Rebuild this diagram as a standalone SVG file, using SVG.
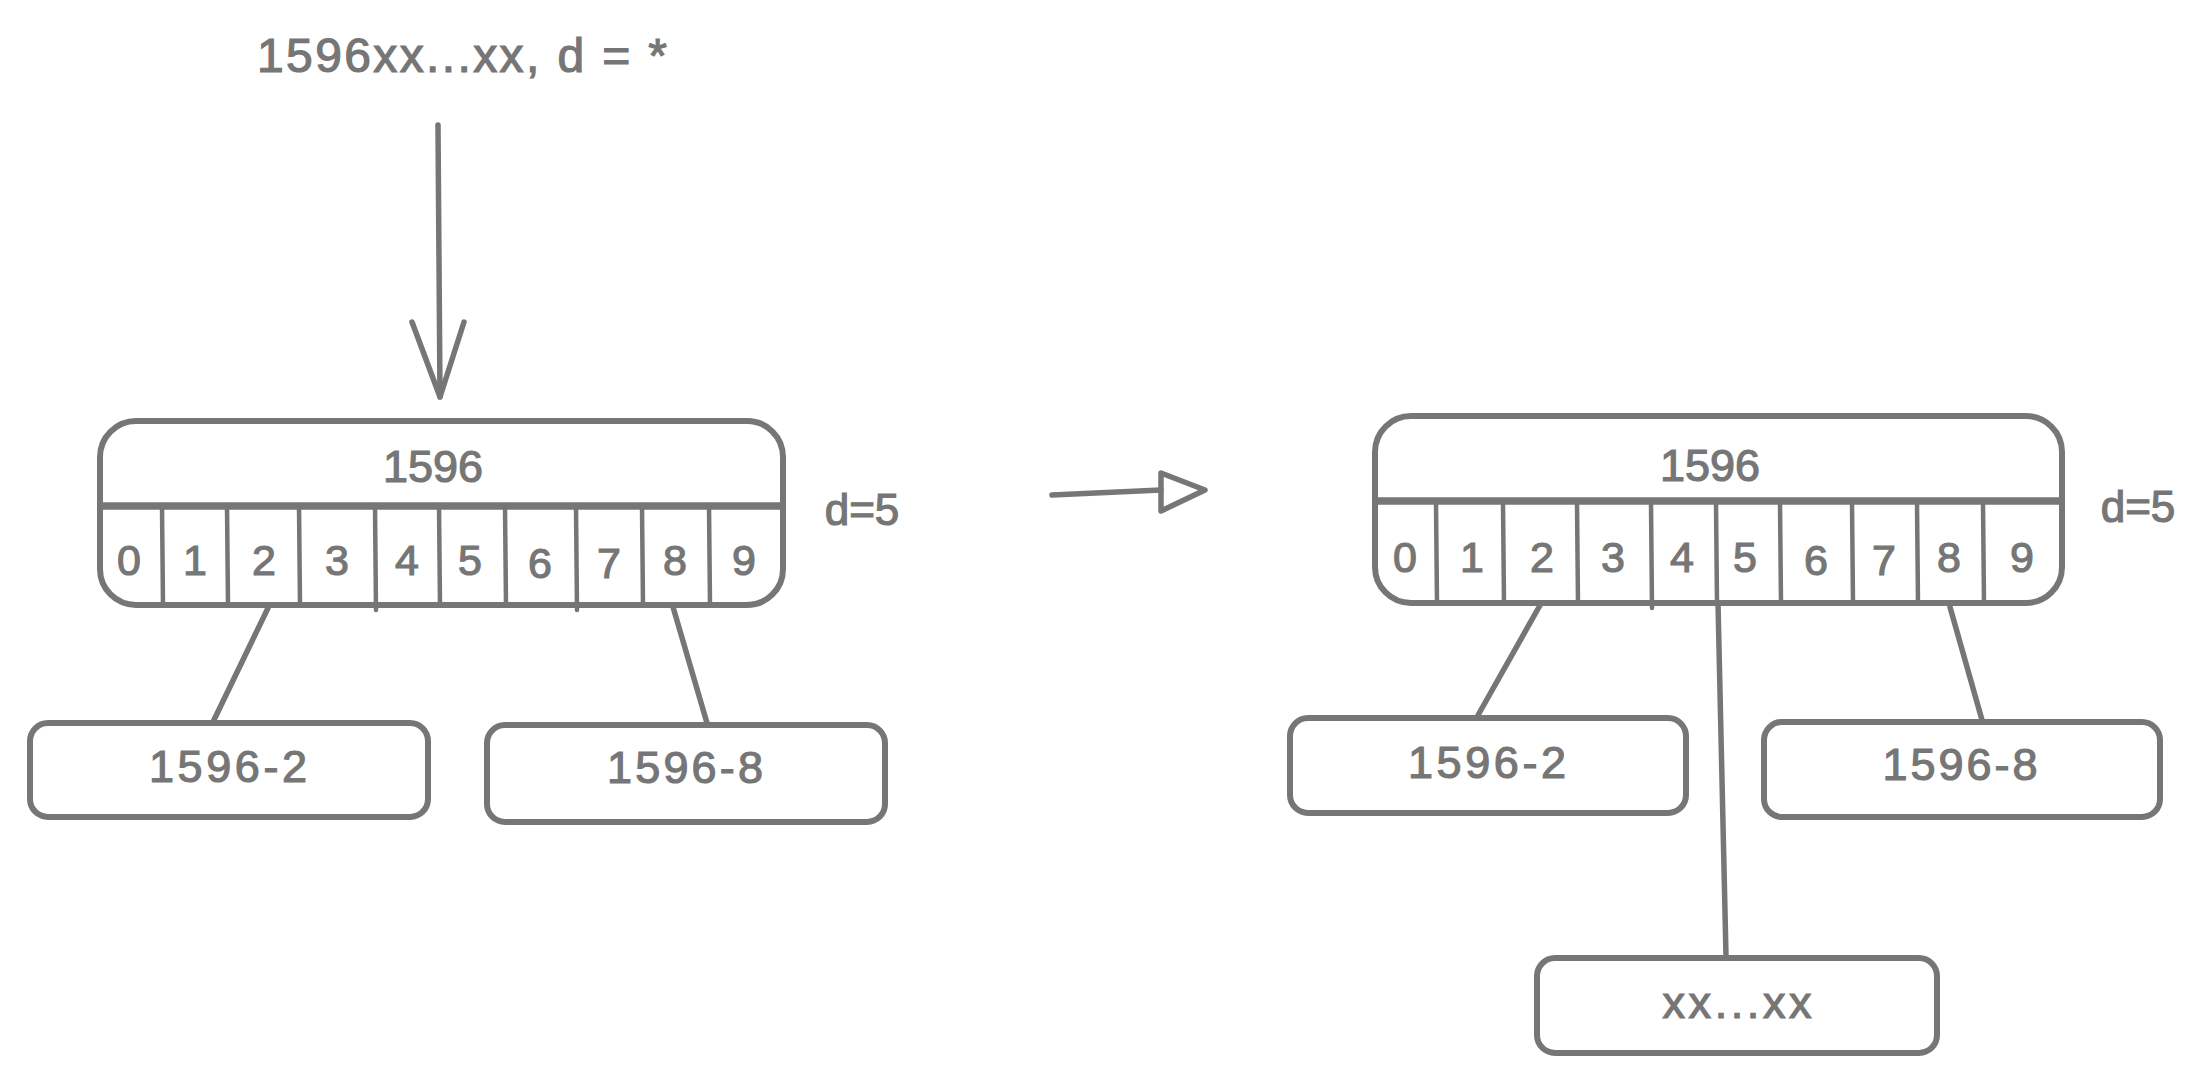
<svg xmlns="http://www.w3.org/2000/svg" width="2211" height="1082" viewBox="0 0 2211 1082">
<style>
.s{fill:none;stroke:#767676;stroke-width:5.5;stroke-linecap:round;stroke-linejoin:round}
.b{fill:#ffffff;stroke:#767676;stroke-width:6;stroke-linejoin:round}
.d{stroke:#767676;stroke-width:4.5;stroke-linecap:round}
.h{stroke:#767676;stroke-width:7.5;stroke-linecap:butt}
.t{font-family:"Liberation Sans",Arial,sans-serif;fill:#767676;stroke:#767676;stroke-width:1.2;text-anchor:middle}
.big{font-size:48px}
.mid{font-size:45px}
.dig{font-size:43px}
.lab{font-size:44px}
</style>
<rect x="0" y="0" width="2211" height="1082" fill="#ffffff"/>

<g id="title">
<text class="t big" x="462" y="72" textLength="410">1596xx...xx, d = *</text>
</g>

<g id="connectors">
<path class="s" d="M438 125 L440 397"/>
<path class="s" d="M412 322 L440 397 L464 322"/>
<path class="s" d="M268 608 L213 722"/>
<path class="s" d="M673 607 L707 723"/>
<path class="s" d="M1052 495 L1161 490"/>
<path class="s" d="M1161 473 L1205 490 L1161 511 Z"/>
<path class="s" d="M1543 600 L1477 717"/>
<path class="s" d="M1718 603 L1726 956"/>
<path class="s" d="M1950 607 L1982 720"/>
</g>

<g id="left-root">
<rect class="b" x="100" y="421" width="683" height="184" rx="36" ry="36"/>
<line class="h" x1="100" y1="506" x2="783" y2="506"/>
<line class="d" x1="162" y1="506" x2="163" y2="605"/>
<line class="d" x1="227" y1="506" x2="228" y2="605"/>
<line class="d" x1="299" y1="506" x2="300" y2="605"/>
<line class="d" x1="375" y1="506" x2="376" y2="610"/>
<line class="d" x1="439" y1="506" x2="440" y2="605"/>
<line class="d" x1="505" y1="506" x2="506" y2="605"/>
<line class="d" x1="576" y1="506" x2="577" y2="610"/>
<line class="d" x1="642" y1="506" x2="643" y2="605"/>
<line class="d" x1="709" y1="506" x2="710" y2="605"/>
<text class="t mid" x="433" y="482">1596</text>
<text class="t dig" x="129" y="575">0</text>
<text class="t dig" x="195" y="575">1</text>
<text class="t dig" x="264" y="575">2</text>
<text class="t dig" x="337" y="575">3</text>
<text class="t dig" x="407" y="575">4</text>
<text class="t dig" x="470" y="575">5</text>
<text class="t dig" x="540" y="578">6</text>
<text class="t dig" x="609" y="578">7</text>
<text class="t dig" x="675" y="575">8</text>
<text class="t dig" x="744" y="575">9</text>
<text class="t lab" x="862" y="525">d=5</text>
</g>

<g id="left-child-2">
<rect class="b" x="30" y="723" width="398" height="94" rx="18" ry="18"/>
<text class="t mid" x="228" y="782" textLength="158">1596-2</text>
</g>

<g id="left-child-8">
<rect class="b" x="487" y="725" width="398" height="97" rx="18" ry="18"/>
<text class="t mid" x="685" y="783" textLength="156">1596-8</text>
</g>

<g id="right-root">
<rect class="b" x="1375" y="416" width="687" height="187" rx="36" ry="36"/>
<line class="h" x1="1375" y1="501" x2="2062" y2="501"/>
<line class="d" x1="1436" y1="503" x2="1437" y2="603"/>
<line class="d" x1="1503" y1="503" x2="1504" y2="603"/>
<line class="d" x1="1577" y1="503" x2="1578" y2="603"/>
<line class="d" x1="1651" y1="503" x2="1652" y2="608"/>
<line class="d" x1="1716" y1="503" x2="1717" y2="603"/>
<line class="d" x1="1780" y1="503" x2="1781" y2="603"/>
<line class="d" x1="1852" y1="503" x2="1853" y2="603"/>
<line class="d" x1="1917" y1="503" x2="1918" y2="603"/>
<line class="d" x1="1983" y1="503" x2="1984" y2="603"/>
<text class="t mid" x="1710" y="481">1596</text>
<text class="t dig" x="1405" y="572">0</text>
<text class="t dig" x="1472" y="572">1</text>
<text class="t dig" x="1542" y="572">2</text>
<text class="t dig" x="1613" y="572">3</text>
<text class="t dig" x="1682" y="572">4</text>
<text class="t dig" x="1745" y="572">5</text>
<text class="t dig" x="1816" y="575">6</text>
<text class="t dig" x="1884" y="575">7</text>
<text class="t dig" x="1949" y="572">8</text>
<text class="t dig" x="2022" y="572">9</text>
<text class="t lab" x="2138" y="522">d=5</text>
</g>

<g id="right-child-2">
<rect class="b" x="1290" y="718" width="396" height="95" rx="18" ry="18"/>
<text class="t mid" x="1487" y="778" textLength="158">1596-2</text>
</g>

<g id="right-child-8">
<rect class="b" x="1764" y="722" width="396" height="95" rx="18" ry="18"/>
<text class="t mid" x="1960" y="780" textLength="155">1596-8</text>
</g>

<g id="right-child-rest">
<rect class="b" x="1537" y="958" width="400" height="95" rx="18" ry="18"/>
<text class="t mid" x="1737" y="1018" textLength="149">xx...xx</text>
</g>
</svg>
